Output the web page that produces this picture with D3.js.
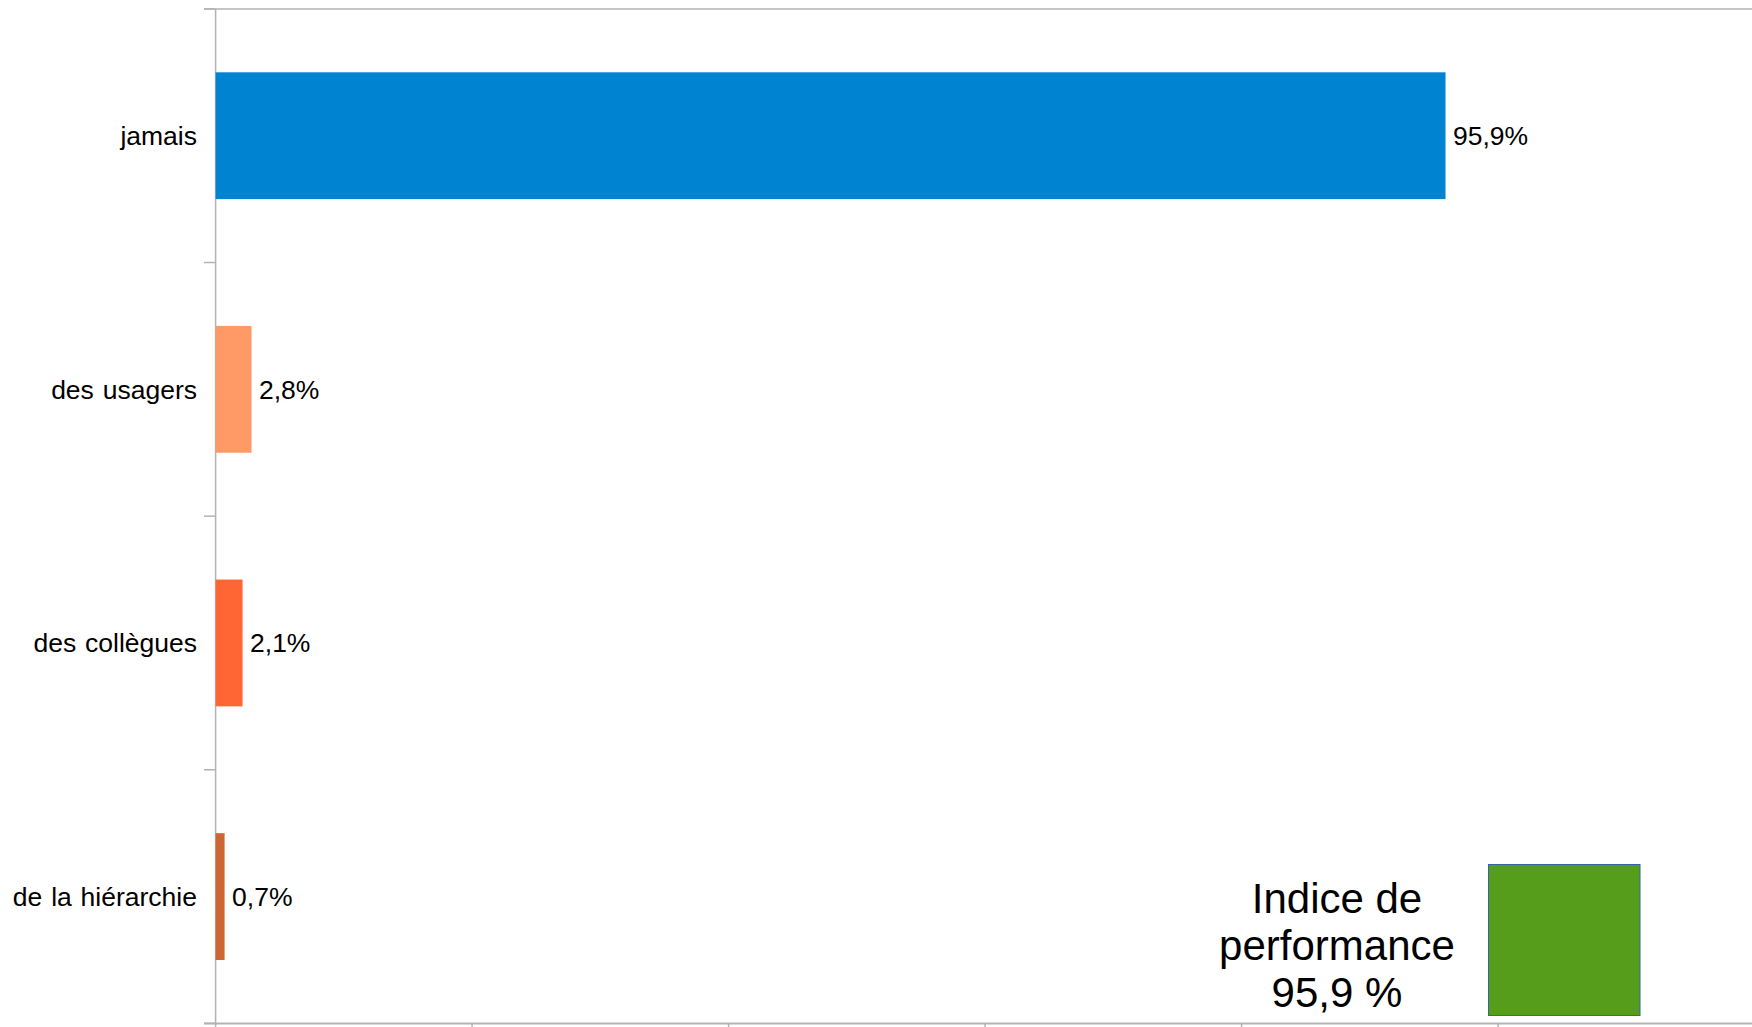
<!DOCTYPE html>
<html>
<head>
<meta charset="utf-8">
<script src="https://cdn.jsdelivr.net/npm/d3@7"></script>
<style>
  html, body { margin: 0; padding: 0; background: #fff; }
  svg { display: block; font-family: "Liberation Sans", Arial, sans-serif; }
</style>
</head>
<body>
<svg id="chart" width="1752" height="1027"></svg>
<script>
// Share of respondents by source of incivility
const categories = ["jamais", "des usagers", "des collègues", "de la hiérarchie"];
const values = [0.959, 0.028, 0.021, 0.007];
const colors = ["#0084d1", "#ff9966", "#ff6633", "#cc6633"];
const xTicks = [0, 0.2, 0.4, 0.6, 0.8, 1.0, 1.2];
const indexLines = ["Indice de", "performance"];

const svg = d3.select("#chart");
const W = 1752, H = 1027;
const plotLeft = 215.6, plotTop = 8.9, plotBottom = 1023.4;
const axisColor = "#b3b3b3";

const x = d3.scaleLinear().domain([0, 1.2]).range([plotLeft, plotLeft + 6 * 256.5]);
const y = d3.scaleBand().domain(categories).range([plotTop, plotBottom])
  .paddingInner(0.5).paddingOuter(0.25);

const fmtPct = v => d3.format(".1f")(v * 100).replace(".", ",");

// frame lines: top and bottom
svg.append("line").attr("x1", 204).attr("x2", W).attr("y1", plotTop).attr("y2", plotTop)
  .attr("stroke", axisColor).attr("stroke-width", 1.5);
svg.append("line").attr("x1", 204).attr("x2", W).attr("y1", plotBottom).attr("y2", plotBottom)
  .attr("stroke", axisColor).attr("stroke-width", 2);

// value axis ticks below the plot
svg.append("g").selectAll("line").data(xTicks).join("line")
  .attr("x1", d => x(d)).attr("x2", d => x(d))
  .attr("y1", plotBottom).attr("y2", plotBottom + 12)
  .attr("stroke", axisColor).attr("stroke-width", 1.5);

// category axis line and boundary ticks
svg.append("line").attr("x1", plotLeft).attr("x2", plotLeft).attr("y1", plotTop).attr("y2", plotBottom)
  .attr("stroke", axisColor).attr("stroke-width", 1.5);
const bounds = categories.map(c => y(c) - y.step() * y.paddingInner() / 2);
bounds.push(plotBottom);
bounds[0] = plotTop;
svg.append("g").selectAll("line").data(bounds).join("line")
  .attr("x1", 204).attr("x2", plotLeft).attr("y1", d => d).attr("y2", d => d)
  .attr("stroke", axisColor).attr("stroke-width", 1.5);

// bars
svg.append("g").selectAll("rect").data(categories).join("rect")
  .attr("x", x(0))
  .attr("y", d => y(d))
  .attr("width", (d, i) => x(values[i]) - x(0))
  .attr("height", y.bandwidth())
  .attr("fill", (d, i) => colors[i]);

// category labels
svg.append("g").selectAll("text").data(categories).join("text")
  .attr("x", 197)
  .attr("y", d => y(d) + y.bandwidth() / 2)
  .attr("dy", "0.35em")
  .attr("text-anchor", "end")
  .attr("font-size", 26.5)
  .attr("word-spacing", 1.5)
  .attr("fill", "#000")
  .text(d => d);

// value labels
svg.append("g").selectAll("text").data(categories).join("text")
  .attr("x", (d, i) => x(values[i]) + 7.5)
  .attr("y", d => y(d) + y.bandwidth() / 2)
  .attr("dy", "0.35em")
  .attr("font-size", 26.5)
  .attr("fill", "#000")
  .text((d, i) => fmtPct(values[i]) + "%");

// performance index block
const idx = svg.append("text")
  .attr("x", 1337).attr("text-anchor", "middle")
  .attr("font-size", 42).attr("fill", "#000");
[...indexLines, fmtPct(values[0]) + " %"].forEach((t, i) => {
  idx.append("tspan").attr("x", 1337).attr("y", 912.5 + i * 47.3).text(t);
});
svg.append("rect")
  .attr("x", 1488.5).attr("y", 864.5)
  .attr("width", 151.5).attr("height", 151)
  .attr("fill", "#579d1c")
  .attr("stroke", "#3465a4").attr("stroke-width", 1);
</script>
</body>
</html>
